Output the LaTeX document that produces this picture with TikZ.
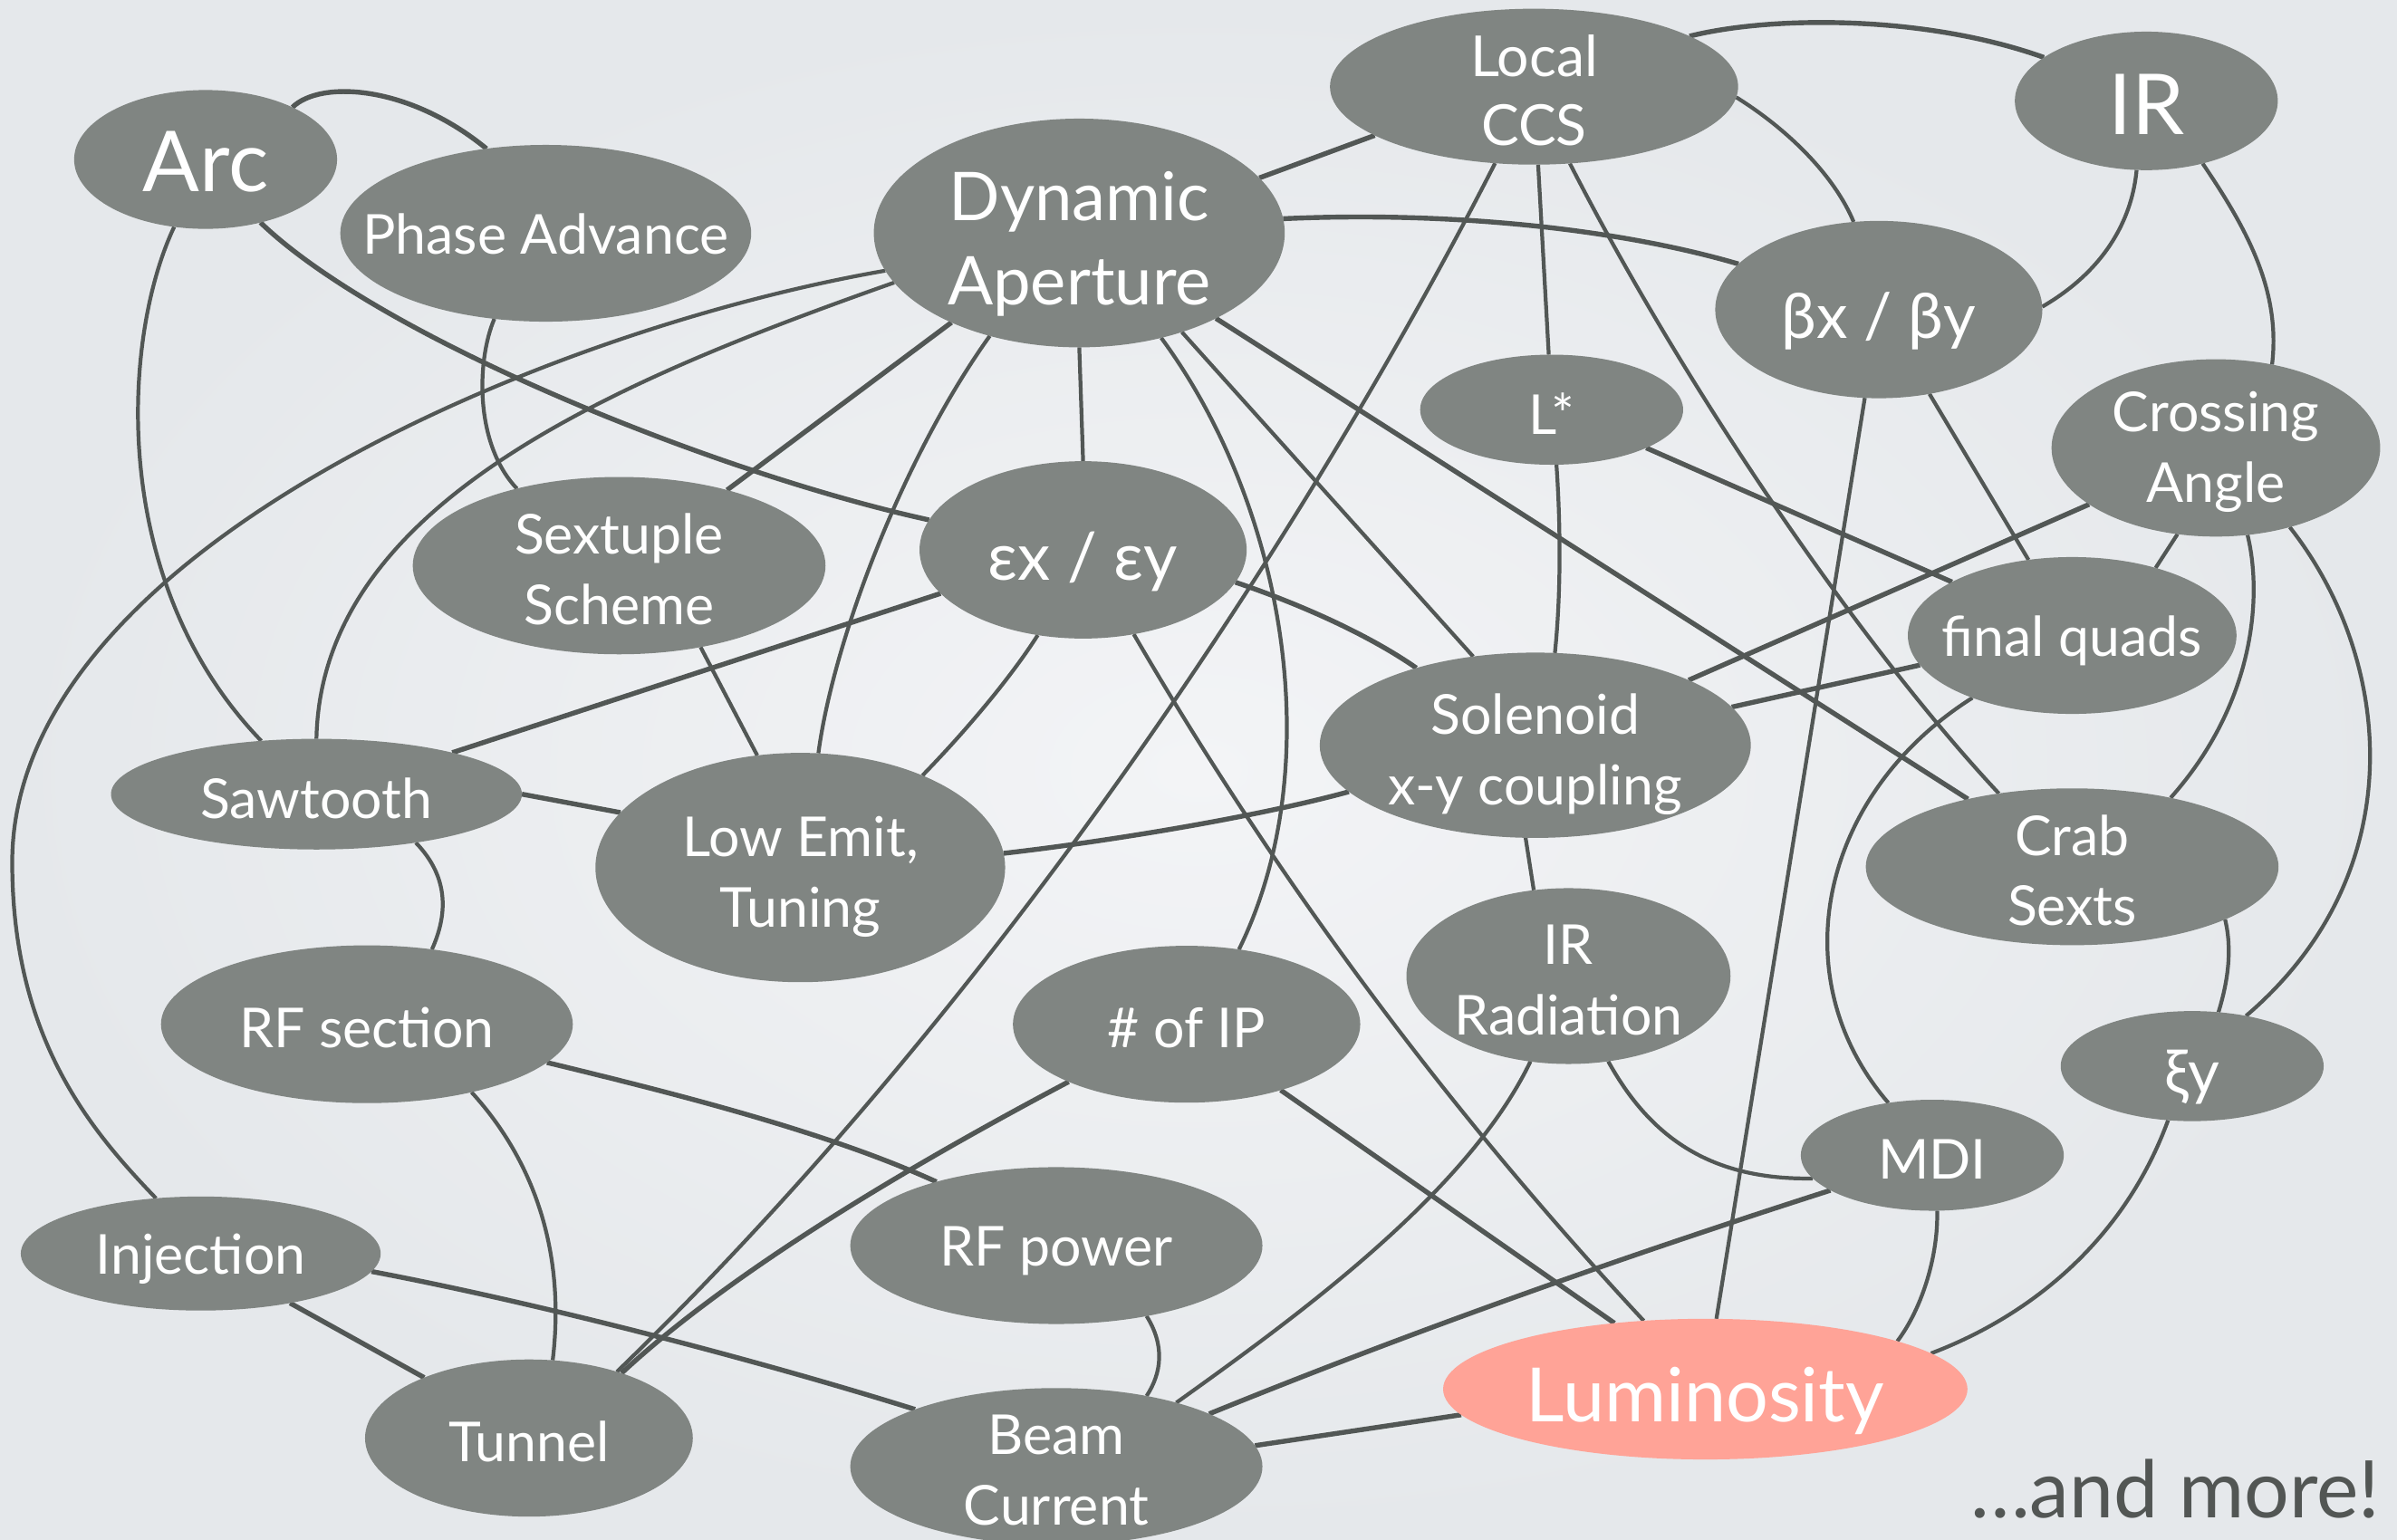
\documentclass[tikz,border=0pt]{standalone}
\usepackage{fontspec}
\setmainfont{Lato}
\usetikzlibrary{shapes.geometric}
\definecolor{nodegray}{RGB}{128,133,130}
\definecolor{linegray}{RGB}{82,87,85}
\definecolor{lumpink}{RGB}{255,163,151}
\definecolor{bgin}{RGB}{243,244,246}
\definecolor{bgout}{RGB}{229,232,235}
\definecolor{moretext}{RGB}{82,86,84}
\pgfdeclarelayer{bg}\pgfdeclarelayer{edges}\pgfsetlayers{bg,edges,main}
\begin{document}
\begin{tikzpicture}[x=1pt,y=-1pt,
 ell/.style={ellipse,fill=nodegray,inner sep=0pt,outer sep=0pt},
 lbl/.style={text=white,inner sep=0pt,align=center,yshift=-2.5pt,font=\fontsize{36}{46}\selectfont},
 big/.style={lbl,font=\fontsize{55}{60}\selectfont},
 con/.style={draw=linegray,line width=2.5pt},
 heavy/.style={con,line width=3.2pt}]
\begin{pgfonlayer}{bg}
\shade[inner color=bgin,outer color=bgout] (0,0) rectangle (1568,1007);
\end{pgfonlayer}
\useasboundingbox (0,0) rectangle (1568,1007);

% nodes
\node[ell,minimum width=172pt,minimum height=90.8pt,label={[big,yshift=1pt]center:Arc}] (arc) at (134.5,104.3) {};
\node[ell,minimum width=268.8pt,minimum height=115.6pt,label={[lbl,yshift=2pt]center:Phase Advance}] (pa) at (357,152.6) {};
\node[ell,minimum width=268.8pt,minimum height=149.6pt,label={[lbl,yshift=-4.5pt,font=\fontsize{44}{55}\selectfont]center:Dynamic\\Aperture}] (da) at (706,152.4) {};
\node[ell,minimum width=267pt,minimum height=102pt,label={[lbl,font=\fontsize{37}{45}\selectfont]center:Local\\CCS}] (ccs) at (1003.5,56.7) {};
\node[ell,minimum width=172pt,minimum height=72pt,label={[lbl]center:L*}] (lstar) at (1015,268) {};
\node[ell,minimum width=172pt,minimum height=90.6pt,label={[big]center:IR}] (ir) at (1404,66) {};
\node[ell,minimum width=214pt,minimum height=116pt,label={[lbl,yshift=-5pt,font=\fontsize{41}{46}\selectfont]center:βx / βy}] (beta) at (1229,202.5) {};
\node[ell,minimum width=215pt,minimum height=116pt,label={[lbl]center:Crossing\\Angle}] (ca) at (1449.5,293) {};
\node[ell,minimum width=270pt,minimum height=116pt,label={[lbl]center:Sextuple\\Scheme}] (sext) at (405,370) {};
\node[ell,minimum width=214pt,minimum height=116pt,label={[lbl,yshift=-5pt,font=\fontsize{43}{46}\selectfont]center:εx / εy}] (eps) at (708.5,359.7) {};
\node[ell,minimum width=268.8pt,minimum height=72.4pt,label={[lbl]center:Sawtooth}] (saw) at (207,519.5) {};
\node[ell,minimum width=268pt,minimum height=150pt,label={[lbl,yshift=-3.5pt]center:Low Emit,\\Tuning}] (low) at (523.5,567.5) {};
\node[ell,minimum width=282pt,minimum height=121.2pt,label={[lbl,yshift=-3.5pt]center:Solenoid\\x-y coupling}] (sol) at (1004.3,487.5) {};
\node[ell,minimum width=215pt,minimum height=102.6pt,label={[lbl,yshift=-1pt]center:final quads}] (fq) at (1355.5,415.7) {};
\node[ell,minimum width=270pt,minimum height=102.6pt,label={[lbl]center:Crab\\Sexts}] (crab) at (1355.5,567) {};
\node[ell,minimum width=172pt,minimum height=72pt,label={[lbl,yshift=-5pt,font=\fontsize{40}{46}\selectfont]center:ξy}] (xi) at (1434,697.4) {};
\node[ell,minimum width=172pt,minimum height=72.6pt,label={[lbl]center:MDI}] (mdi) at (1264,755.7) {};
\node[ell,fill=lumpink,minimum width=343pt,minimum height=92pt,label={[lbl,yshift=-5pt,font=\fontsize{49}{55}\selectfont]center:Luminosity}] (lum) at (1115.5,908.7) {};
\node[ell,minimum width=212pt,minimum height=115pt,label={[lbl]center:IR\\Radiation}] (irr) at (1026,638.5) {};
\node[ell,minimum width=227.2pt,minimum height=102.6pt,label={[lbl]center:\# of IP}] (ip) at (776.2,670) {};
\node[ell,minimum width=269.6pt,minimum height=102.6pt,label={[lbl,yshift=-1pt]center:RF power}] (rfp) at (691,814.8) {};
\node[ell,minimum width=269.6pt,minimum height=102.6pt,label={[lbl]center:Beam\\Current}] (beam) at (691,959.3) {};
\node[ell,minimum width=269.4pt,minimum height=103.2pt,label={[lbl]center:RF section}] (rfs) at (240,670) {};
\node[ell,minimum width=235.4pt,minimum height=74.6pt,label={[lbl,yshift=-1pt]center:Injection}] (inj) at (131.3,820) {};
\node[ell,minimum width=214.4pt,minimum height=102.8pt,label={[lbl]center:Tunnel}] (tun) at (346,940.7) {};
\node[anchor=base east,text=moretext,font=\fontsize{52}{60}\selectfont,inner sep=0pt] (more) at (1557,993) {…and more!};

% connectors
\begin{pgfonlayer}{edges}
\draw[heavy] (arc.31.5) .. controls (210,52) and (268,56) .. (pa.125);
\draw[heavy] (arc.-49.6) .. controls (250,222) and (470,310) .. (eps.169.7);
\draw[con] (arc.245.4) .. controls (80,220) and (70,380) .. (saw.136.2);
\draw[con] (pa.-121.3) .. controls (312,235) and (310,290) .. (sext.143);
\draw[heavy] (da.17.6) -- (ccs.197.6);
\draw[heavy] (da.4.9) .. controls (950,138) and (1060,150) .. (beta.162.7);
\draw[heavy] (da.215.8) -- (sext.35.1);
\draw[con] (da.195) .. controls (400,250) and (210,330) .. (saw.90);
\draw[con] (da.191) .. controls (360,215) and (8,360) .. (8,564) .. controls (8,680) and (60,740) .. (inj.129.3);
\draw[con] (da.229) .. controls (590,300) and (545,420) .. (low.81.3);
\draw[con] (da.270) -- (eps.90);
\draw[con] (da.-44.2) -- (sol.125.9);
\draw[con] (da.-52) .. controls (840,330) and (870,500) .. (ip.55.1);
\draw[heavy] (da.-32.7) -- (crab.147.2);
\draw[con] (ccs.-87) -- (lstar.93);
\draw[con] (ccs.-117.5) .. controls (900,260) and (700,610) .. (tun.37.7);
\draw[con] (ccs.-65.4) .. controls (1100,250) and (1215,420) .. (crab.135);
\draw[con] (ccs.-3.2) .. controls (1170,85) and (1200,115) .. (beta.106.3);
\draw[heavy] (ccs.18) .. controls (1160,10) and (1260,10) .. (ir.157.1);
\draw[con] (ir.-48.3) .. controls (1470,150) and (1492,190) .. (ca.56.3);
\draw[con] (beta.1.5) .. controls (1380,175) and (1395,140) .. (ir.262.8);
\draw[con] (beta.261.8) -- (lum.81.9);
\draw[con] (beta.-59.8) -- (fq.120.3);
\draw[con] (ca.246.5) -- (fq.39.4);
\draw[con] (ca.-47.7) .. controls (1565,430) and (1580,570) .. (xi.43.8);
\draw[con] (ca.-70.5) .. controls (1480,390) and (1475,460) .. (crab.35);
\draw[heavy] (lstar.-22.6) -- (fq.156.3);
\draw[con] (lstar.-85.4) .. controls (1021,345) and (1021,390) .. (sol.78.4);
\draw[heavy] (eps.-12.6) .. controls (850,395) and (895,415) .. (sol.147.1);
\draw[heavy] (eps.197.5) -- (saw.17.8);
\draw[con] (eps.242.5) .. controls (660,445) and (630,480) .. (low.37.6);
\draw[con] (eps.-59.3) .. controls (836,577) and (947,726) .. (lum.132.5);
\draw[con] (sext.-45.8) -- (low.111.1);
\draw[heavy] (saw.-0.8) -- (low.163.5);
\draw[con] (saw.-26.8) .. controls (295,575) and (292,600) .. (rfs.49.8);
\draw[heavy] (low.4.6) .. controls (720,551) and (820,535) .. (sol.194.5);
\draw[heavy] (sol.11.3) -- (fq.191.3);
\draw[heavy] (sol.23.7) -- (ca.204);
\draw[con] (sol.264.8) -- (irr.112.4);
\draw[con] (fq.212.4) .. controls (1190,520) and (1165,640) .. (mdi.130.5);
\draw[con] (crab.-19.9) .. controls (1460,620) and (1458,640) .. (xi.64);
\draw[con] (xi.246.1) .. controls (1390,810) and (1330,860) .. (lum.9.4);
\draw[con] (irr.-65) .. controls (1080,745) and (1120,772) .. (mdi.191.2);
\draw[con] (irr.246.1) .. controls (960,780) and (850,860) .. (beam.28.1);
\draw[heavy] (mdi.199.5) .. controls (1062,822) and (926,870) .. (beam.19.6);
\draw[con] (mdi.-85.8) .. controls (1268,820) and (1258,855) .. (lum.14);
\draw[heavy] (ip.-35.5) -- (lum.144.7);
\draw[heavy] (ip.206.9) .. controls (600,760) and (480,830) .. (tun.35);
\draw[heavy] (lum.186.8) -- (beam.6.6);
\draw[con] (rfp.-38.8) .. controls (762,880) and (760,898) .. (beam.38.7);
\draw[heavy] (rfs.-12.5) .. controls (440,715) and (540,740) .. (rfp.152.4);
\draw[con] (rfs.-33.5) .. controls (350,760) and (370,820) .. (tun.73.2);
\draw[heavy] (inj.-29.6) -- (tun.150.2);
\draw[heavy] (inj.-6.6) .. controls (340,850) and (480,885) .. (beam.158.9);
\end{pgfonlayer}
\end{tikzpicture}
\end{document}
